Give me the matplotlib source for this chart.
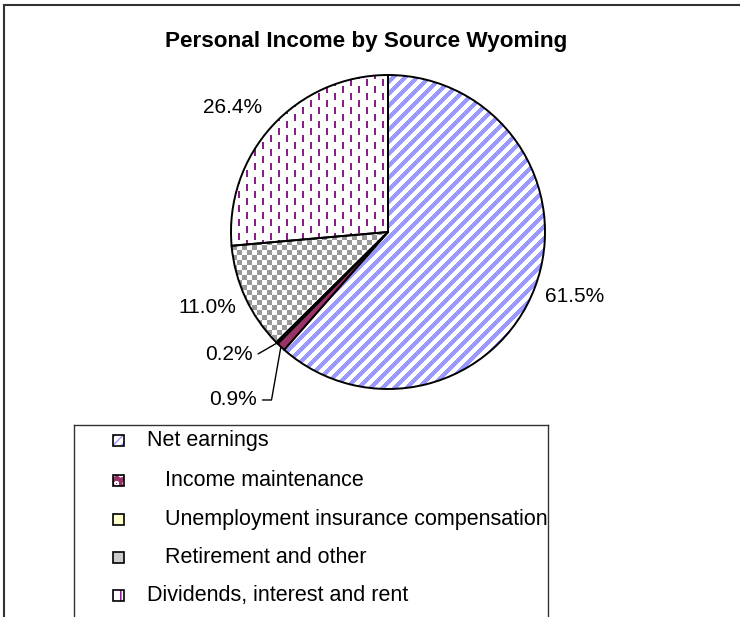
import numpy as np
import matplotlib
matplotlib.use("Agg")
from matplotlib import pyplot as plt
from matplotlib.patches import Rectangle

plt.rcParams['font.family'] = ['Liberation Sans', 'DejaVu Sans']

# data
sources = ['Net earnings', 'Income maintenance', 'Unemployment insurance compensation',
           'Retirement and other', 'Dividends, interest and rent']
legend_labels = ['Net earnings', '   Income maintenance', '   Unemployment insurance compensation',
                 '   Retirement and other', 'Dividends, interest and rent']
shares = [61.5, 0.9, 0.2, 11.0, 26.4]
pct_labels = ['61.5%', '0.9%', '0.2%', '11.0%', '26.4%']

W, H = 740, 617
fig = plt.figure(figsize=(W / 100, H / 100), dpi=100)

# outer chart frame (bottom/right cut off like the reference)
fig.add_artist(Rectangle((4 / W, -0.1), 1.2, (H - 5) / H + 0.1, transform=fig.transFigure,
                         fill=False, edgecolor='#333333', linewidth=1.5))

fig.text(366 / W, 1 - 42 / H, 'Personal Income by Source Wyoming', ha='center', va='center',
         fontsize=16.2, fontweight='bold')

# pie axes: center (388, 232) px from top-left, radius 157 px
cx, cy, R = 388, 232, 157
lim = 1.06
half = R * lim
ax = fig.add_axes([(cx - half) / W, (H - cy - half) / H, 2 * half / W, 2 * half / H])

colors = ['white', '#993366', '#ffffcc', 'white', 'white']
wedges, _ = ax.pie(shares, startangle=90, counterclock=False, colors=colors, radius=1,
                   wedgeprops=dict(edgecolor='black', linewidth=1.4))
ax.set_xlim(-lim, lim)
ax.set_ylim(-lim, lim)
ax.axis('off')

# fill patterns, built in pixel space and clipped to the wedges
n = int(round(2 * half))
ii, jj = np.mgrid[0:n, 0:n]
def pattern(mask, fg):
    img = np.ones((n, n, 3))
    img[mask] = matplotlib.colors.to_rgb(fg)
    return img

col = jj // 8
patterns = {
    0: pattern(((ii + jj) % 12) < 6, '#9999ff'),
    3: pattern(((ii // 5 + jj // 5) % 2) == 0, '#999999'),
    4: pattern(((jj % 8) < 2) & (((ii + (col % 2) * 7) % 14) < 7), '#861f86'),
}
for k, img in patterns.items():
    wedges[k].set_facecolor('none')
    im = ax.imshow(img, extent=(-lim, lim, -lim, lim), origin='upper',
                   interpolation='nearest', zorder=0.5)
    im.set_clip_path(wedges[k])

# percentage labels (text centers in radius units)
label_pos = [(1.191, -0.414), (-0.987, -1.070), (-1.013, -0.783), (-1.153, -0.478), (-0.987, 0.790)]
leader_angle = {1: 80, 2: 30}
for k, w in enumerate(wedges):
    if k in leader_angle:
        mid = np.deg2rad((w.theta1 + w.theta2) / 2)
        ax.annotate(pct_labels[k], xy=(np.cos(mid), np.sin(mid)), xytext=label_pos[k],
                    ha='center', va='center', fontsize=15,
                    arrowprops=dict(arrowstyle='-', color='black', lw=1, shrinkA=2, shrinkB=0,
                                    connectionstyle=f'angle,angleA=0,angleB={leader_angle[k]},rad=0'))
    else:
        ax.text(*label_pos[k], pct_labels[k], ha='center', va='center', fontsize=15)

# legend box drawn in pixel units
lx0, ly0, lx1 = 74, 425, 548
lax = fig.add_axes([lx0 / W, -0.05, (lx1 - lx0) / W, (H - ly0) / H + 0.05])
lax.set_xlim(lx0, lx1)
lax.set_ylim(H + 0.05 * H, ly0)
lax.set_xticks([])
lax.set_yticks([])
for s in lax.spines.values():
    s.set_linewidth(1.0)
    s.set_color('#333333')

row_y = [441, 481, 520, 558, 596]
marker_fill = ['white', '#993366', '#ffffcc', '#cccccc', 'white']
marker_hatch = ['////', 'oo', None, None, '||']
marker_hcol = ['#9999ff', 'white', '#ffffcc', '#999999', '#800080']
for k, lab in enumerate(legend_labels):
    y = row_y[k]
    lax.add_patch(Rectangle((113, y - 5.5), 11, 11, facecolor=marker_fill[k],
                            edgecolor=marker_hcol[k], hatch=marker_hatch[k], linewidth=0))
    lax.add_patch(Rectangle((113, y - 5.5), 11, 11, fill=False, edgecolor='black', linewidth=1.2))
    lax.text(147, y, lab, ha='left', va='center', fontsize=15.5)

fig.savefig('out.png', dpi=100)
